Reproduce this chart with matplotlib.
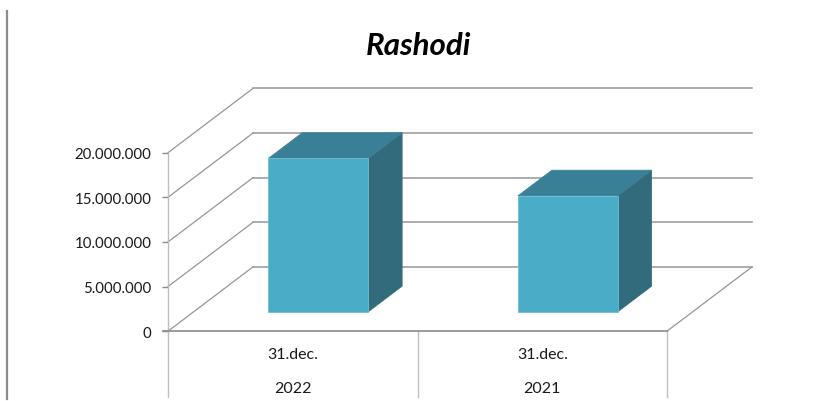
import matplotlib
matplotlib.use("Agg")
import matplotlib.pyplot as plt
from matplotlib.patches import Polygon

years = ["2022", "2021"]
dates = ["31.dec.", "31.dec."]
values = [17200000, 13000000]
yticks = [0, 5000000, 10000000, 15000000, 20000000]

plt.rcParams["font.family"] = ["Lato", "DejaVu Sans"]

W, H = 815, 402
fig = plt.figure(figsize=(W / 100, H / 100), dpi=100)
# axes box is the front plane of the 3d chart
ax = fig.add_axes([168 / W, 1 - 332.2 / H, 499 / W, 178.5 / H])
ax.set_xlim(-0.5, 1.5)
ax.set_ylim(0, 20000000)
ax.patch.set_visible(False)

# wall depth, in data units
depth_x = 85 / 249.5
depth_y = 64.3 / 178.5 * 20000000
grid_c = "#969696"

for v in yticks:
    ax.plot([-0.5, -0.5 + depth_x], [v, v + depth_y], color=grid_c, lw=0.9, clip_on=False, zorder=1)
    ax.plot([-0.5 + depth_x, 1.5 + depth_x], [v + depth_y, v + depth_y], color=grid_c, lw=1.1, clip_on=False, zorder=1)
ax.plot([1.5, 1.5 + depth_x], [0, depth_y], color=grid_c, lw=0.9, clip_on=False, zorder=1)

# bars
bar_w = 0.4
base = 0.3
thick = 0.4
front_c, side_c, top_c = "#4aacc6", "#316b7c", "#398096"
for i, v in enumerate(values):
    x0 = i - bar_w / 2 + base * depth_x
    x1 = x0 + bar_w
    y0 = base * depth_y
    y1 = y0 + v
    dx = thick * depth_x
    dy = thick * depth_y
    ax.add_patch(Polygon([(x1, y0), (x1 + dx, y0 + dy), (x1 + dx, y1 + dy), (x1, y1)], fc=side_c, ec=side_c, lw=0.5, clip_on=False, zorder=3))
    ax.add_patch(Polygon([(x0, y1), (x0 + dx, y1 + dy), (x1 + dx, y1 + dy), (x1, y1)], fc=top_c, ec=top_c, lw=0.5, clip_on=False, zorder=3))
    ax.add_patch(Polygon([(x0, y0), (x1, y0), (x1, y1), (x0, y1)], fc=front_c, ec="#6dbdd3", lw=0.6, clip_on=False, zorder=4))

# axes
for s in ["top", "right", "bottom"]:
    ax.spines[s].set_visible(False)
ax.spines["left"].set_color("#bfbfbf")
ax.spines["left"].set_linewidth(1.0)
ax.set_yticks(yticks)
ax.set_yticklabels([f"{v:,}".replace(",", ".") for v in yticks], fontsize=10.8, color="#1a1a1a")
ax.tick_params(axis="y", length=4, width=1.0, color="#8c8c8c", pad=8)
ax.set_xticks([])

# category axis below the floor
ax.plot([-0.52, 1.5], [0, 0], color="#8c8c8c", lw=1.2, clip_on=False, zorder=5)
low = -66 / 178.5 * 20000000
for x in [-0.5, 0.5, 1.5]:
    ax.plot([x, x], [0, low], color="#bfbfbf", lw=1.0, clip_on=False, zorder=2)
for i in range(len(years)):
    ax.text(i, -22.5 / 178.5 * 20000000, dates[i], ha="center", va="center", fontsize=11.5, color="#1a1a1a")
    ax.text(i, -56.5 / 178.5 * 20000000, years[i], ha="center", va="center", fontsize=11.5, color="#1a1a1a")

fig.text(418.5 / W, 1 - 46 / H, "Rashodi", ha="center", va="center", fontsize=22.5, fontweight="bold", fontstyle="italic", color="black")
# vertical rule at the left edge
fig.add_artist(plt.Line2D([7 / W, 7 / W], [1 - 12 / H, 1 - 400 / H], color="#8c8c8c", lw=1.6))

fig.savefig("out.png", dpi=100)
